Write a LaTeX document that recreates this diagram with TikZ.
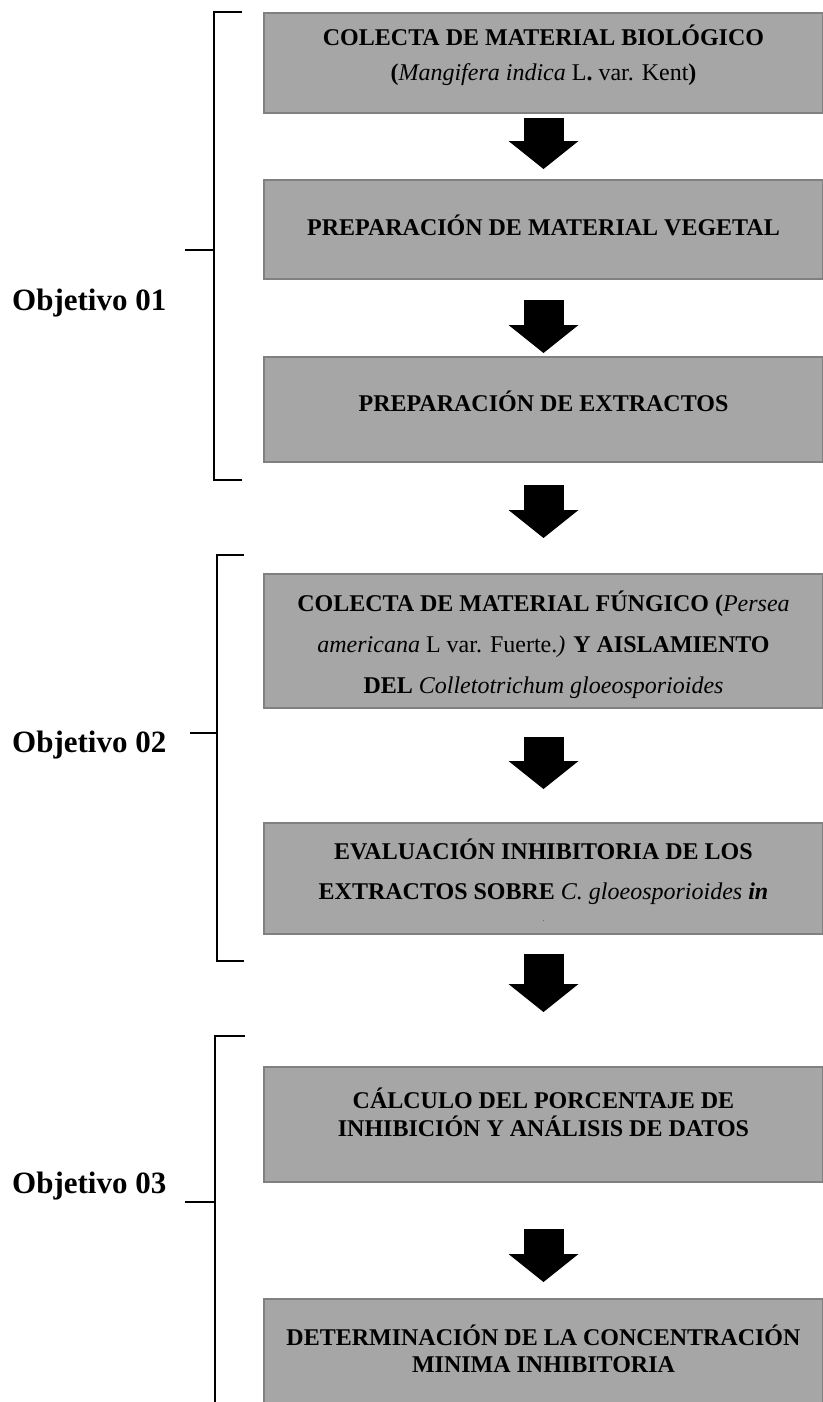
\documentclass[tikz,border=0pt]{standalone}
\usepackage{fontspec}
\setmainfont{Liberation Serif}
\usetikzlibrary{positioning,arrows.meta}
\definecolor{boxgray}{RGB}{166,166,166}
\definecolor{edgegray}{RGB}{128,128,128}
% box text: height, top padding, lines
\newcommand{\boxtext}[3]{\parbox[c][#1][t]{559pt}{\centering\vspace*{#2}\rule{0pt}{22pt}#3}}
\tikzset{
  stepbox/.style={draw=edgegray, line width=2pt, fill=boxgray, inner sep=0pt,
    font=\fontsize{24}{28}\selectfont\bfseries},
  flowarrow/.style={line width=40pt, -{Triangle[width=70pt,length=28pt,line width=0pt]}},
  bracket/.style={line width=1.2pt},
  objlabel/.style={anchor=base west, inner sep=0pt, font=\fontsize{31}{31}\selectfont\bfseries}
}
\begin{document}
\begin{tikzpicture}[x=1pt, y=-1pt]
\useasboundingbox (0,0) rectangle (822,1402);

% boxes
\node[stepbox, font=\fontsize{24}{35}\selectfont\bfseries] (colecta) at (543.5,63)
  {\boxtext{100pt}{11pt}{COLECTA DE MATERIAL BIOLÓGICO\\
   (\textit{\mdseries Mangifera indica}{\mdseries\ L}. {\mdseries var. Kent})}};
\node[stepbox, below=65pt of colecta] (vegetal)
  {\boxtext{99pt}{33pt}{PREPARACIÓN DE MATERIAL VEGETAL}};
\node[stepbox, below=76pt of vegetal] (extractos)
  {\boxtext{105pt}{32pt}{PREPARACIÓN DE EXTRACTOS}};
\node[stepbox, below=110pt of extractos, font=\fontsize{24}{41}\selectfont\bfseries] (fungico)
  {\boxtext{134pt}{15pt}{COLECTA DE MATERIAL FÚNGICO (\textit{\mdseries Persea}\\
   {\mdseries\itshape americana}{\mdseries\ L var. Fuerte.}{\mdseries\itshape)} Y AISLAMIENTO\\
   DEL {\mdseries\itshape Colletotrichum gloeosporioides}}};
\node[stepbox, below=113pt of fungico, font=\fontsize{24}{40}\selectfont\bfseries] (evaluacion)
  {\boxtext{111pt}{14pt}{EVALUACIÓN INHIBITORIA DE LOS\\
   EXTRACTOS SOBRE {\mdseries\itshape C. gloeosporioides} {\itshape in}\\[-18pt]
   {\mdseries\fontsize{6}{6}\selectfont .}}};
\node[stepbox, below=131pt of evaluacion] (calculo)
  {\boxtext{115pt}{19pt}{CÁLCULO DEL PORCENTAJE DE\\ INHIBICIÓN Y ANÁLISIS DE DATOS}};
\node[stepbox, below=115pt of calculo, font=\fontsize{24}{27}\selectfont\bfseries] (concentracion)
  {\boxtext{112pt}{24pt}{DETERMINACIÓN DE LA CONCENTRACIÓN\\ MINIMA INHIBITORIA}};

% arrows between steps
\draw[flowarrow, shorten <=4pt, shorten >=10pt] (colecta) -- (vegetal);
\draw[flowarrow, shorten <=20pt, shorten >=3pt] (vegetal) -- (extractos);
\draw[flowarrow, shorten <=22pt, shorten >=35pt] (extractos) -- (fungico);
\draw[flowarrow, shorten <=28pt, shorten >=33pt] (fungico) -- (evaluacion);
\draw[flowarrow, shorten <=19pt, shorten >=54pt] (evaluacion) -- (calculo);
\draw[flowarrow, shorten <=46pt, shorten >=16pt] (calculo) -- (concentracion);

% objectives
\node[objlabel] (obj1) at (12,310) {Objetivo 01};
\node[objlabel] (obj2) at (12,752) {Objetivo 02};
\node[objlabel] (obj3) at (12,1193) {Objetivo 03};

\draw[bracket] (242,12) -- (214,12) -- (214,480) -- (242,480);
\draw[bracket] (214,250) -- (185,250);
\draw[bracket] (244,555) -- (217,555) -- (217,961) -- (244,961);
\draw[bracket] (217,733) -- (190,733);
\draw[bracket] (245,1036) -- (215,1036) -- (215,1405);
\draw[bracket] (215,1202) -- (185,1202);
\end{tikzpicture}
\end{document}
